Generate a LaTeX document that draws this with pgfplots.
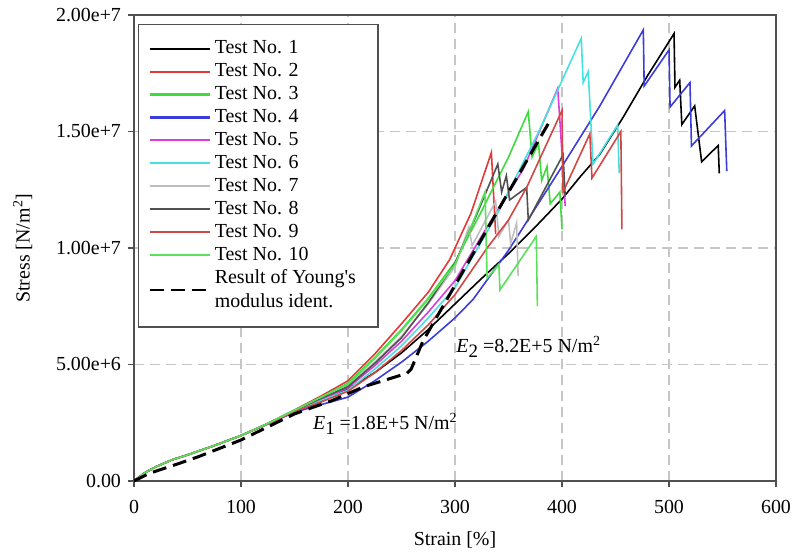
\documentclass[border=0pt]{standalone}
\usepackage{fontspec}
\setmainfont{Liberation Serif}
\usepackage{pgfplots}
\pgfplotsset{compat=1.18}

\definecolor{cblack}{HTML}{000000}
\definecolor{cred}{HTML}{E43838}
\definecolor{cgreen}{HTML}{3CDC3C}
\definecolor{cblue}{HTML}{3C3CDC}
\definecolor{cmagenta}{HTML}{DC3CDC}
\definecolor{ccyan}{HTML}{46E1E1}
\definecolor{clgray}{HTML}{BEBEBE}
\definecolor{cdgray}{HTML}{505050}
\definecolor{cred2}{HTML}{D24646}
\definecolor{cgreen2}{HTML}{5AE15A}
\definecolor{axisgray}{HTML}{505050}

\begin{document}
\begin{tikzpicture}
\useasboundingbox (-67bp,-37bp) rectangle (332.5bp,240.5bp);
\begin{axis}[
    scale only axis,
    width=321bp, height=233bp,
    xmin=0, xmax=600,
    ymin=0, ymax=20,
    xtick={0,100,...,600},
    ytick={0,5,10,15,20},
    yticklabels={0.00, 5.00e+6, 1.00e+7, 1.50e+7, 2.00e+7},
    /pgf/number format/assume math mode=true,
    tick pos=left,
    tick align=outside,
    major tick length=3bp,
    tick style={axisgray, line width=0.7pt},
    axis line style={axisgray, line width=0.8pt},
    ticklabel style={font=\fontsize{10}{12}\selectfont},
    xticklabel style={yshift=-3bp},
    label style={font=\fontsize{10}{12}\selectfont},
    xlabel={Strain [\%]},
    ylabel={Stress [N/m\textsuperscript{2}]},
    xlabel style={yshift=-2.5bp},
    ylabel style={yshift=5bp},
    grid=major,
    grid style={gray!45, line width=0.6pt, dash pattern=on 5bp off 3bp},
    no marks,
    every axis plot/.append style={line width=0.8pt},
    legend cell align=left,
    legend image code/.code={\draw[line width=1.1pt,#1] (0bp,0bp) -- (30bp,0bp);},
    legend style={at={(0.006,0.981)}, anchor=north west,
        draw=axisgray, line width=0.8pt,
        font=\fontsize{10}{12}\selectfont,
        inner xsep=5pt, inner ysep=6pt, row sep=-0.6pt,
        cells={align=left}},
]
% stress in units of 1e6 N/m^2
\addplot[cblack] coordinates {
 (0,0) (10,0.35) (20,0.6) (35,0.9) (50,1.12) (75,1.52) (100,1.95) (125,2.45) (150,2.98) (175,3.4)
 (200,3.95) (225,4.65) (250,5.5) (275,6.5) (300,7.6) (325,8.7) (351,9.8) (375,10.9) (400,12.1)
 (417,13.06) (435,14.0) (457,15.6) (480,17.4) (504.7,19.2) (505.6,16.9) (510,17.2) (512,15.3)
 (524,16.1) (530.5,13.7) (546,14.4) (547,13.2)
};
\addlegendentry{Test No. 1}
\addplot[cred] coordinates {
 (0,0) (10,0.35) (20,0.6) (35,0.9) (50,1.12) (75,1.52) (100,1.95) (125,2.47) (150,3.05) (175,3.65)
 (200,4.3) (225,5.45) (250,6.75) (275,8.1) (295,9.5) (315,11.5) (334,14.1) (338,10.6)
};
\addlegendentry{Test No. 2}
\addplot[cgreen] coordinates {
 (0,0) (10,0.35) (20,0.6) (35,0.9) (50,1.12) (75,1.52) (100,1.95) (125,2.47) (150,3.03) (175,3.6)
 (200,4.2) (225,5.3) (250,6.5) (275,7.85) (300,9.4) (325,11.6) (350,13.9) (368.5,15.85)
 (372,13.9) (378,14.5) (381,12.9) (386,13.5) (389,11.9) (398,12.4) (400,10.8)
};
\addlegendentry{Test No. 3}
\addplot[cblue] coordinates {
 (0,0) (10,0.35) (20,0.6) (35,0.9) (50,1.12) (75,1.52) (100,1.95) (125,2.45) (150,2.95) (175,3.28)
 (200,3.6) (225,4.3) (250,5.1) (275,6.0) (300,7.0) (317,7.8) (350,9.9) (400,13.5) (435,16.07)
 (476,19.36) (476.8,16.95) (500,18.5) (501,16.05) (519.6,17.1) (521,14.38) (552,15.9) (554,13.3)
};
\addlegendentry{Test No. 4}
\addplot[cmagenta] coordinates {
 (0,0) (10,0.35) (20,0.6) (35,0.9) (50,1.12) (75,1.52) (100,1.95) (125,2.46) (150,3.0) (175,3.5)
 (200,4.0) (225,4.95) (250,6.0) (275,7.25) (300,8.6) (330,10.9) (364,13.4) (396,16.85) (398,15.5)
 (403,11.8)
};
\addlegendentry{Test No. 5}
\addplot[ccyan] coordinates {
 (0,0) (10,0.35) (20,0.6) (35,0.9) (50,1.12) (75,1.52) (100,1.95) (125,2.46) (150,3.0) (175,3.45)
 (200,3.9) (225,4.8) (250,5.8) (275,7.0) (300,8.3) (340,11.5) (379,15.06) (418,19.0) (419.8,17.1)
 (424.5,17.57) (429,13.6) (452,15.28) (453.5,13.2)
};
\addlegendentry{Test No. 6}
\addplot[clgray] coordinates {
 (0,0) (10,0.35) (20,0.6) (35,0.9) (50,1.12) (75,1.52) (100,1.95) (125,2.46) (150,3.02) (175,3.55)
 (200,4.1) (225,5.1) (250,6.2) (275,7.6) (300,9.2) (313,10.9) (316,10.1) (338,12.0) (341,10.5)
 (350,11.2) (352,10.2) (357.6,11.07) (359,8.8)
};
\addlegendentry{Test No. 7}
\addplot[cdgray] coordinates {
 (0,0) (10,0.35) (20,0.6) (35,0.9) (50,1.12) (75,1.52) (100,1.95) (125,2.46) (150,3.02) (175,3.55)
 (200,4.05) (225,5.05) (250,6.15) (275,7.65) (300,9.35) (320,11.4) (340,13.6) (343.6,12.4)
 (348,13.1) (351,12.06) (367,12.6) (368.5,11.2) (401,14.0) (403,12.2)
};
\addlegendentry{Test No. 8}
\addplot[cred2] coordinates {
 (0,0) (10,0.35) (20,0.6) (35,0.9) (50,1.12) (75,1.52) (100,1.95) (125,2.45) (150,2.97) (175,3.4)
 (200,3.85) (225,4.65) (250,5.6) (275,6.7) (300,8.0) (330,10.0) (350,11.2) (367,12.6) (400,15.9)
 (401,12.4) (426,14.9) (428,13.0) (455,15.0) (456,10.8)
};
\addlegendentry{Test No. 9}
\addplot[cgreen2] coordinates {
 (0,0) (10,0.35) (20,0.6) (35,0.9) (50,1.12) (75,1.52) (100,1.95) (125,2.47) (150,3.03) (175,3.6)
 (200,4.15) (225,5.25) (250,6.45) (275,7.8) (300,9.3) (315,10.9) (328,12.4) (330,8.7) (341,9.3)
 (342,8.2) (376,10.5) (377,7.5)
};
\addlegendentry{Test No. 10}
\addplot[black, line width=1.5pt, dash pattern=on 7bp off 3.5bp] coordinates {
 (0,0) (15,0.34) (40,0.72) (60,1.04) (100,1.76) (150,2.88) (185,3.45) (215,4.05) (255,4.62)
 (259,4.8) (270,6.0) (345,12.0) (388,15.4)
};
\addlegendentry{Result of Young\textquotesingle s\hspace*{4bp}\\modulus ident.}

\node[anchor=west, inner sep=0pt, font=\fontsize{10}{12}\selectfont]
  at (axis cs:167,2.45) {\textit{E}\raisebox{-0.5ex}{\fontsize{9.5}{10}\selectfont 1} =1.8E+5 N/m\textsuperscript{2}};
\node[anchor=west, inner sep=0pt, font=\fontsize{10}{12}\selectfont]
  at (axis cs:301,5.75) {\textit{E}\raisebox{-0.5ex}{\fontsize{9.5}{10}\selectfont 2} =8.2E+5 N/m\textsuperscript{2}};
\end{axis}
\end{tikzpicture}
\end{document}
